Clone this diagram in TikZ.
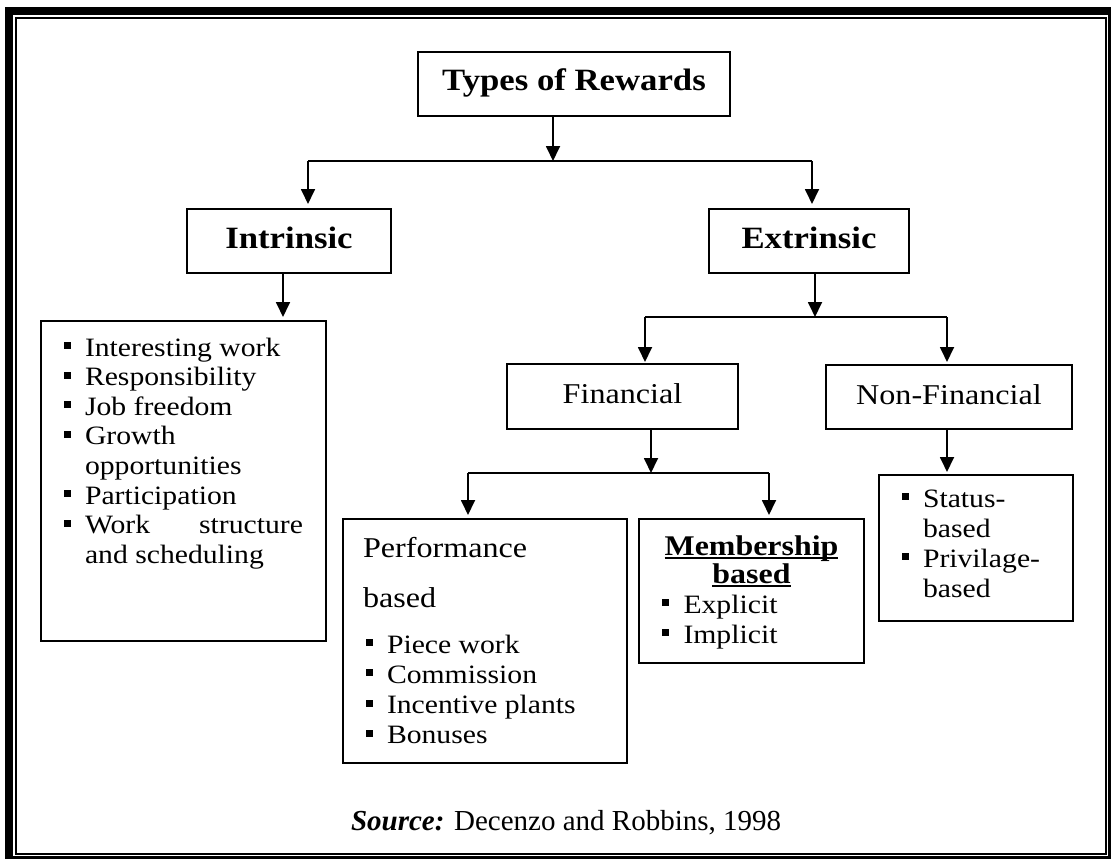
\documentclass[tikz,border=0pt]{standalone}
\usepackage{fontspec}
\setmainfont[FakeStretch=1.12]{Liberation Serif}
\newfontfamily\timesfont{Liberation Serif}
\usetikzlibrary{arrows.meta}
\newcommand\lsz{\fontsize{26.5}{29.6}\selectfont}
\newcommand\bsz{\fontsize{28.7}{34}\selectfont}
\newcommand\hsz{\fontsize{31}{36}\selectfont\bfseries}
\newcommand\bul{\makebox[21.5pt][l]{\raisebox{7pt}{\rule{7pt}{7pt}}}}
\newcommand\ind{\hspace*{21.5pt}}
\newcommand\myul[1]{\setbox0\hbox{#1}\rlap{\rule[-4pt]{\wd0}{2.2pt}}\box0}
\begin{document}
\begin{tikzpicture}[x=1pt,y=-1pt,
  box/.style={draw, line width=1.8pt, inner sep=0pt, outer sep=0pt, anchor=north west},
  lbl/.style={box, anchor=center, text height=20pt, text depth=6pt},
  arr/.style={line width=1.8pt, -{Triangle[width=14pt,length=15pt]}},
  ln/.style={line width=1.8pt},
  txt/.style={inner sep=0pt, outer sep=0pt, anchor=base west}]
\useasboundingbox (0,0) rectangle (1111,859);
\clip (0,0) rectangle (1111,859);
% frame
\draw[line width=7.5pt] (8.75,11) rectangle (1111.25,859.75);
\draw[line width=1.7pt] (15.8,18.3) rectangle (1105.7,854);
% boxes
\node[lbl, minimum width=312pt, minimum height=64pt] (types) at (574,84) {\hsz Types of Rewards};
\node[lbl, minimum width=204pt, minimum height=64pt] (intr) at (289,241) {\hsz Intrinsic};
\node[lbl, minimum width=200pt, minimum height=64pt] (extr) at (809,241) {\hsz Extrinsic};
\node[lbl, minimum width=231pt, minimum height=65pt] (fin) at (622.5,396.5) {\bsz Financial};
\node[lbl, minimum width=246pt, minimum height=64pt] (nonfin) at (949,397) {\bsz Non-Financial};
\node[box, minimum width=285pt, minimum height=320pt] (intlist) at (41,321) {};
\node[box, minimum width=284pt, minimum height=244pt] (perf) at (343,519) {};
\node[box, minimum width=225pt, minimum height=144pt] (memb) at (639,519) {};
\node[box, minimum width=194pt, minimum height=146pt] (status) at (879,475) {};
% texts
\node[txt] (intlisttxt) at (63.5,356) {\lsz\begin{tabular}[t]{@{}l@{}}
\bul Interesting work\\
\bul Responsibility\\
\bul Job freedom\\
\bul Growth\\
\ind opportunities\\
\bul Participation\\
\bul \makebox[218pt][s]{Work structure}\\
\ind and scheduling
\end{tabular}};
\node[txt] (perfhead) at (363,557) {\fontsize{28.7}{50}\selectfont\begin{tabular}[t]{@{}l@{}}
Performance\\
based
\end{tabular}};
\node[txt] (perftxt) at (365.5,653) {\fontsize{26.5}{30.3}\selectfont\begin{tabular}[t]{@{}l@{}}
\bul Piece work\\
\bul Commission\\
\bul Incentive plants\\
\bul Bonuses
\end{tabular}};
\node[inner sep=0pt, outer sep=0pt, anchor=base] (membhead) at (751.5,555) {\fontsize{28.5}{28}\selectfont\bfseries\begin{tabular}[t]{@{}c@{}}
\myul{Membership}\\
\myul{based}
\end{tabular}};
\node[txt] (membtxt) at (662,613) {\fontsize{26.5}{30}\selectfont\begin{tabular}[t]{@{}l@{}}
\bul Explicit\\
\bul Implicit
\end{tabular}};
\node[txt] (statustxt) at (901.5,507) {\fontsize{26.5}{30}\selectfont\begin{tabular}[t]{@{}l@{}}
\bul Status-\\
\ind based\\
\bul Privilage-\\
\ind based
\end{tabular}};
\node[txt] (src) at (351,830) {\timesfont\fontsize{29}{34}\selectfont\textbf{\textit{Source:}} Decenzo and Robbins, 1998};
% junction coordinates
\coordinate (j1) at (553,161);
\coordinate (j1l) at (308,161);
\coordinate (j1r) at (812,161);
\coordinate (j2) at (815,317);
\coordinate (j2l) at (645,317);
\coordinate (j2r) at (947,317);
\coordinate (j3) at (651,473);
\coordinate (j3l) at (468,473);
\coordinate (j3r) at (769,473);
% connectors
\draw[arr] (types.south -| j1) -- (j1);
\draw[ln] (j1l) -- (j1r);
\draw[arr, shorten >=5pt] (j1l) -- (j1l |- intr.north);
\draw[arr, shorten >=5pt] (j1r) -- (j1r |- extr.north);
\draw[arr, shorten >=4pt] (intr.south -| 283,0) -- (intlist.north -| 283,0);
\draw[arr] (extr.south -| j2) -- (j2);
\draw[ln] (j2l) -- (j2r);
\draw[arr, shorten >=2pt] (j2l) -- (j2l |- fin.north);
\draw[arr, shorten >=3pt] (j2r) -- (j2r |- nonfin.north);
\draw[arr, shorten >=3pt] (nonfin.south -| j2r) -- (status.north -| j2r);
\draw[arr] (fin.south -| j3) -- (j3);
\draw[ln] (j3l) -- (j3r);
\draw[arr, shorten >=4pt] (j3l) -- (j3l |- perf.north);
\draw[arr, shorten >=4pt] (j3r) -- (j3r |- memb.north);
\end{tikzpicture}
\end{document}
